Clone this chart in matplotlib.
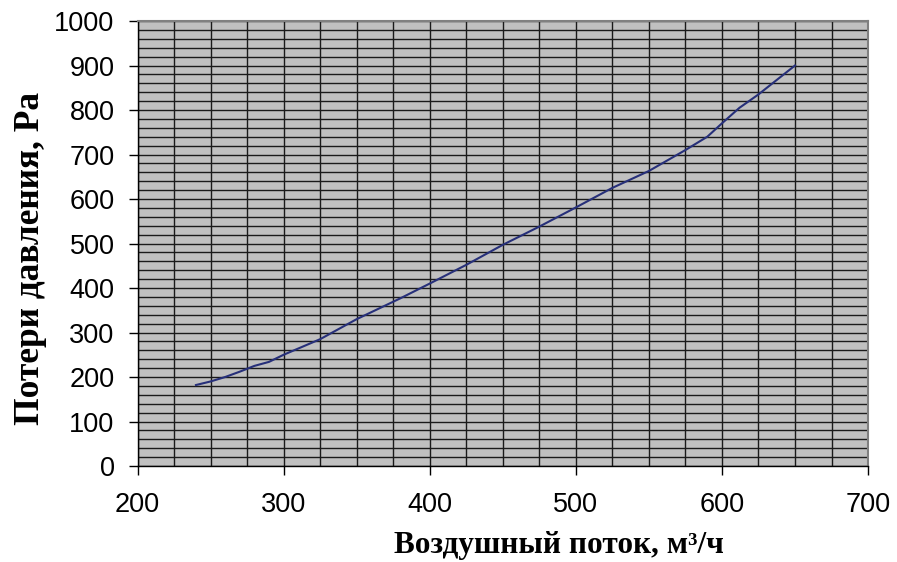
import matplotlib.pyplot as plt
from matplotlib.ticker import MultipleLocator

# air flow, m3/h
flow = [240, 250, 260, 270, 280, 290, 300, 310, 325, 350, 380, 400, 425,
        450, 475, 500, 525, 550, 575, 590, 600, 612, 625, 650]
# pressure loss, Pa
loss = [182, 190, 200, 212, 225, 234, 250, 264, 285, 330, 377, 410, 452,
        497, 538, 581, 625, 663, 710, 740, 770, 805, 835, 900]

fig = plt.figure(figsize=(8.97, 5.62), dpi=100)
ax = fig.add_axes([0.1533, 0.1708, 0.8144, 0.7918])
ax.set_facecolor('#c0c0c0')

ax.set_xlim(200, 700)
ax.set_ylim(0, 1000)
ax.xaxis.set_major_locator(MultipleLocator(100))
ax.xaxis.set_minor_locator(MultipleLocator(25))
ax.yaxis.set_major_locator(MultipleLocator(100))
ax.yaxis.set_minor_locator(MultipleLocator(20))
ax.grid(which='both', color='#1a1a1a', lw=1.0)
ax.set_axisbelow(True)

ax.plot(flow, loss, color='#27307a', lw=1.5)

ax.tick_params(which='major', direction='out', length=6.5, width=1, color='black')
ax.tick_params(which='minor', length=0)
ax.tick_params(axis='x', pad=12, labelsize=19.5)
ax.tick_params(axis='y', pad=10, labelsize=19.5)
for lbl in ax.get_xticklabels() + ax.get_yticklabels():
    lbl.set_family('Liberation Sans')

for s in ['top', 'right']:
    ax.spines[s].set_color('#808080')
    ax.spines[s].set_linewidth(1.5)
for s in ['left', 'bottom']:
    ax.spines[s].set_color('black')
    ax.spines[s].set_linewidth(1.0)

fig.text(0.623, 0.03, 'Воздушный поток, м³/ч', ha='center', va='center',
         family='Liberation Serif', fontweight='bold', fontsize=22.5)
fig.text(0.034, 0.541, 'Потери давления, Ра', ha='center', va='center', rotation=90,
         family='Liberation Serif', fontweight='bold', fontsize=25.5)

fig.savefig('out.png', dpi=100)
